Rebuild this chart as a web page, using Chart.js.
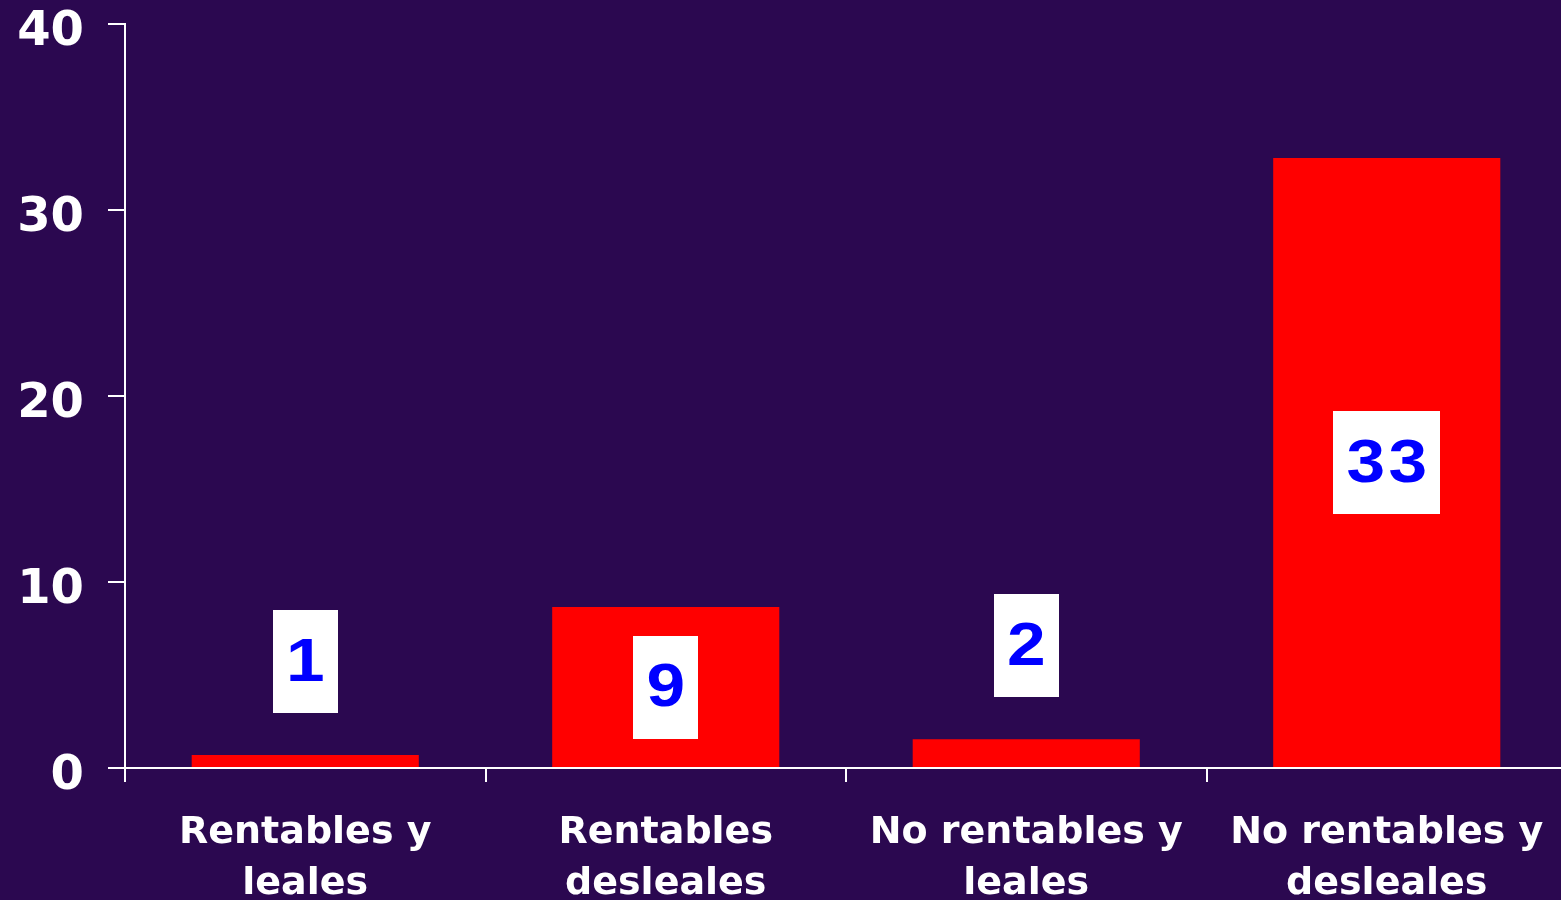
<!DOCTYPE html>
<html>
<head>
<meta charset="utf-8">
<script src="https://cdn.jsdelivr.net/npm/chart.js@4"></script>
<style>
  html, body { margin: 0; padding: 0; background: #2b0850; overflow: hidden; }
  canvas { display: block; }
</style>
</head>
<body>
<canvas id="chart" width="1561" height="900"></canvas>
<script>
// data
const categories = [
  ['Rentables y', 'leales'],
  ['Rentables', 'desleales'],
  ['No rentables y', 'leales'],
  ['No rentables y', 'desleales']
];
const values = [0.7, 8.65, 1.55, 32.8];
const valueLabels = ['1', '9', '2', '33'];
const yTicks = [0, 10, 20, 30, 40];

// white boxes with the blue numbers (slightly wide type, like the original)
const boxLabels = {
  id: 'boxLabels',
  afterDatasetsDraw(chart) {
    const ctx = chart.ctx;
    const meta = chart.getDatasetMeta(0);
    const stretch = 1.12;
    ctx.save();
    ctx.font = 'bold 62px "Liberation Sans", Arial, sans-serif';
    ctx.letterSpacing = '3px';
    ctx.textAlign = 'center';
    ctx.textBaseline = 'middle';
    meta.data.forEach((bar, i) => {
      const txt = valueLabels[i];
      const w = ctx.measureText(txt).width * stretch + 23;
      const h = 103;
      const barH = bar.base - bar.y;
      let cy;
      if (barH > h + 20) {
        cy = (bar.y + bar.base) / 2;
      } else {
        cy = bar.y - 42 - h / 2;
      }
      ctx.fillStyle = '#ffffff';
      ctx.fillRect(Math.round(bar.x - w / 2), Math.round(cy - h / 2), Math.round(w), h);
      ctx.fillStyle = '#0000ff';
      ctx.save();
      ctx.translate(bar.x, cy);
      ctx.scale(stretch, 1);
      ctx.fillText(txt, 1.5, 2);
      ctx.restore();
    });
    ctx.restore();
  }
};

// the plot in the original starts 24px from the top and runs a few px past the right edge
const fitArea = {
  id: 'fitArea',
  afterLayout(chart) {
    const x = chart.scales.x;
    const y = chart.scales.y;
    x.right = chart.width + 6;
    chart.chartArea.right = x.right;
    y.top = 24;
    chart.chartArea.top = 24;
    x.configure();
    y.configure();
  }
};

new Chart(document.getElementById('chart'), {
  type: 'bar',
  data: {
    labels: categories,
    datasets: [{
      data: values,
      backgroundColor: '#ff0000',
      borderWidth: 0,
      barPercentage: 0.63,
      categoryPercentage: 1
    }]
  },
  options: {
    responsive: false,
    animation: false,
    layout: { padding: 0 },
    plugins: { legend: { display: false }, tooltip: { enabled: false } },
    scales: {
      x: {
        grid: {
          offset: true,
          drawOnChartArea: false,
          color: '#ffffff',
          lineWidth: 2,
          tickLength: 14
        },
        border: { color: '#ffffff', width: 2 },
        ticks: {
          color: '#ffffff',
          maxRotation: 0,
          autoSkip: false,
          padding: 26,
          font: { family: '"DejaVu Sans", Verdana, sans-serif', size: 38, weight: 'bold', lineHeight: 1.34 }
        },
        afterFit(scale) { scale.height = 132; }
      },
      y: {
        min: 0,
        max: 40,
        afterBuildTicks(scale) { scale.ticks = yTicks.map(v => ({ value: v })); },
        grid: {
          drawOnChartArea: false,
          color: '#ffffff',
          lineWidth: 2,
          tickLength: 17
        },
        border: { color: '#ffffff', width: 2 },
        ticks: {
          color: '#ffffff',
          padding: 24,
          labelOffset: 9,
          font: { family: '"DejaVu Sans", Verdana, sans-serif', size: 48, weight: 'bold', lineHeight: 1 }
        },
        afterFit(scale) { scale.width = 125; }
      }
    }
  },
  plugins: [boxLabels, fitArea]
});
</script>
</body>
</html>
